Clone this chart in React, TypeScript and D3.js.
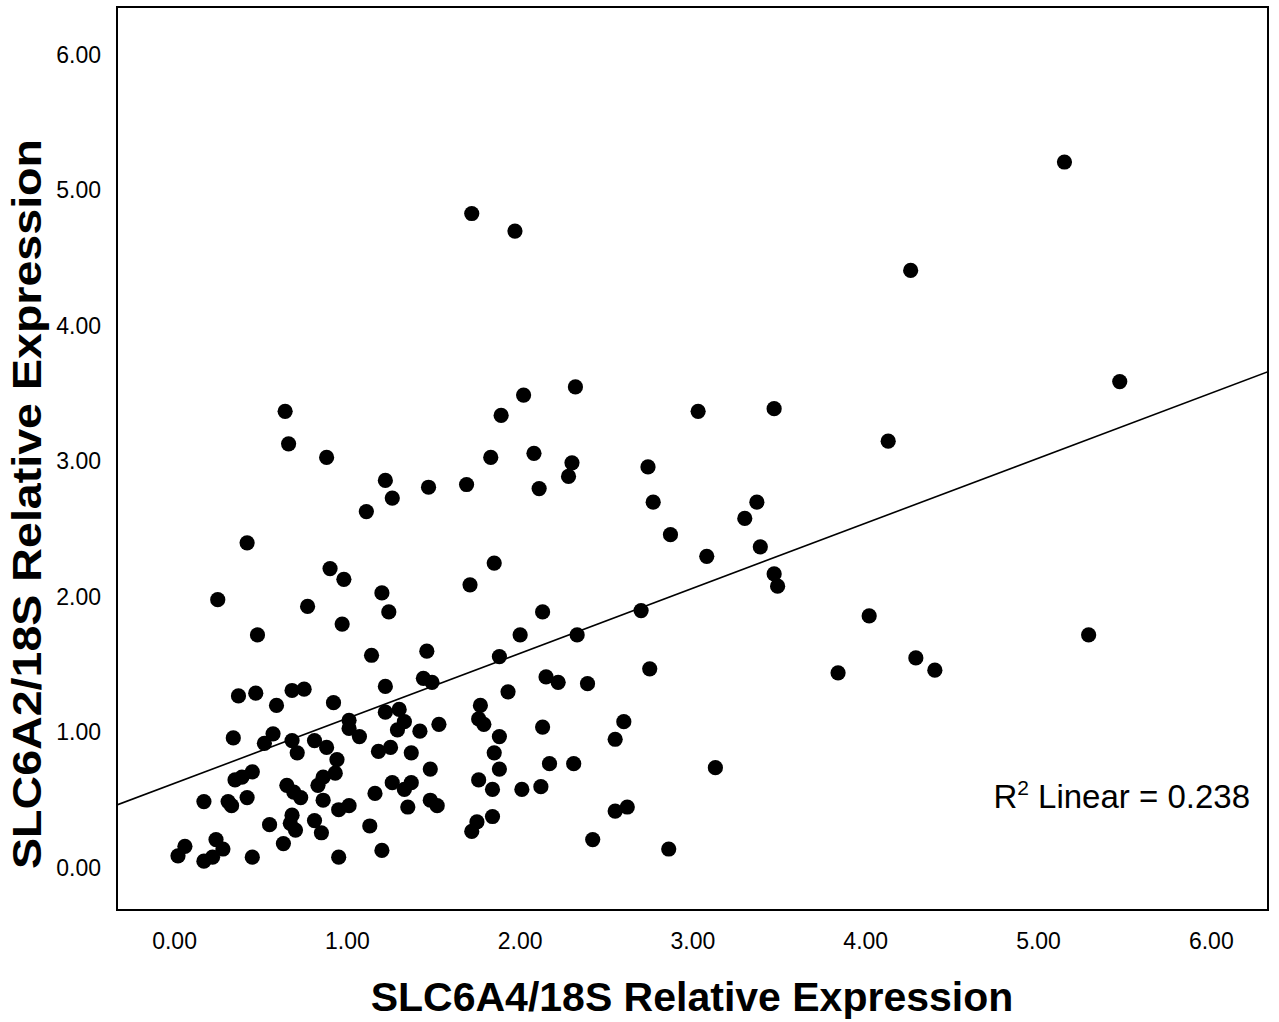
import React from "react";
import * as d3 from "d3";

// SLC6A4/18S relative expression (x) and SLC6A2/18S relative expression (y)
const xValues: number[] = [
  1.72, 1.97, 5.15, 4.26, 5.47, 2.32, 2.02, 1.89, 3.03, 3.47,
  0.64, 0.66, 0.88, 1.22, 1.26, 1.11, 1.47, 1.69, 1.83, 2.08,
  2.30, 2.28, 2.11, 2.74, 2.77, 2.87, 3.08, 4.13, 3.37, 3.30,
  3.39, 3.47, 3.49, 4.02, 5.29, 3.84, 4.29, 4.40, 0.42, 1.85,
  1.71, 0.90, 0.98, 1.20, 1.24, 0.25, 0.77, 0.97, 0.48, 1.14,
  1.46, 1.44, 1.49, 1.22, 0.37, 0.47, 0.68, 0.75, 0.59, 0.92,
  1.01, 1.01, 1.07, 1.22, 1.30, 1.33, 1.29, 1.42, 1.53, 0.34,
  0.57, 0.52, 0.68, 0.71, 0.81, 0.88, 0.94, 0.93, 0.86, 0.83,
  1.18, 1.25, 1.37, 1.48, 0.45, 0.39, 0.35, 0.65, 0.69, 0.73,
  0.17, 0.31, 0.33, 0.42, 0.86, 0.95, 1.01, 1.16, 1.26, 1.37,
  1.33, 1.35, 1.48, 1.52, 0.55, 0.68, 0.67, 0.70, 0.81, 0.85,
  0.63, 1.13, 1.20, 0.95, 0.45, 0.24, 0.28, 0.22, 0.17, 0.06,
  0.02, 2.13, 2.70, 2.00, 2.33, 1.88, 2.75, 2.15, 2.22, 2.39,
  1.93, 1.77, 1.76, 1.79, 1.88, 1.85, 2.13, 2.60, 2.55, 1.88,
  2.17, 2.31, 3.13, 1.76, 1.84, 2.01, 2.12, 1.84, 1.75, 1.72,
  2.55, 2.62, 2.42, 2.86,
];
const yValues: number[] = [
  4.83, 4.70, 5.21, 4.41, 3.59, 3.55, 3.49, 3.34, 3.37, 3.39,
  3.37, 3.13, 3.03, 2.86, 2.73, 2.63, 2.81, 2.83, 3.03, 3.06,
  2.99, 2.89, 2.80, 2.96, 2.70, 2.46, 2.30, 3.15, 2.70, 2.58,
  2.37, 2.17, 2.08, 1.86, 1.72, 1.44, 1.55, 1.46, 2.40, 2.25,
  2.09, 2.21, 2.13, 2.03, 1.89, 1.98, 1.93, 1.80, 1.72, 1.57,
  1.60, 1.40, 1.37, 1.34, 1.27, 1.29, 1.31, 1.32, 1.20, 1.22,
  1.09, 1.03, 0.97, 1.15, 1.17, 1.08, 1.02, 1.01, 1.06, 0.96,
  0.99, 0.92, 0.94, 0.85, 0.94, 0.89, 0.80, 0.70, 0.67, 0.61,
  0.86, 0.89, 0.85, 0.73, 0.71, 0.67, 0.65, 0.61, 0.56, 0.52,
  0.49, 0.49, 0.46, 0.52, 0.50, 0.43, 0.46, 0.55, 0.63, 0.63,
  0.58, 0.45, 0.50, 0.46, 0.32, 0.39, 0.33, 0.28, 0.35, 0.26,
  0.18, 0.31, 0.13, 0.08, 0.08, 0.21, 0.14, 0.08, 0.05, 0.16,
  0.09, 1.89, 1.90, 1.72, 1.72, 1.56, 1.47, 1.41, 1.37, 1.36,
  1.30, 1.20, 1.10, 1.06, 0.97, 0.85, 1.04, 1.08, 0.95, 0.73,
  0.77, 0.77, 0.74, 0.65, 0.58, 0.58, 0.60, 0.38, 0.34, 0.27,
  0.42, 0.45, 0.21, 0.14,
];

const tickValues: number[] = [0, 1, 2, 3, 4, 5, 6];
const xDomain: [number, number] = [-0.333, 6.328];
const yDomain: [number, number] = [-0.31, 6.354];
const fitIntercept = 0.625;
const fitSlope = 0.48;
const r2Label = "0.238";
const xTitle = "SLC6A4/18S Relative Expression";
const yTitle = "SLC6A2/18S Relative Expression";

const W = 1279;
const H = 1022;
const plot = { left: 117, right: 1268, top: 7, bottom: 910 };
const FONT = "'Liberation Sans', Arial, Helvetica, sans-serif";

export default function App() {
  const x = d3.scaleLinear().domain(xDomain).range([plot.left, plot.right]);
  const y = d3.scaleLinear().domain(yDomain).range([plot.bottom, plot.top]);
  const fmt = d3.format(".2f");
  const points = xValues.map((v, i) => ({ x: v, y: yValues[i] }));
  const fitLine = d3
    .line<number>()
    .x((d) => x(d))
    .y((d) => y(fitIntercept + fitSlope * d));

  return (
    <svg
      width={W}
      height={H}
      style={{ position: "absolute", left: 0, top: 0, background: "#fff" }}
      fontFamily={FONT}
    >
      <defs>
        <clipPath id="plotclip">
          <rect
            x={plot.left}
            y={plot.top}
            width={plot.right - plot.left}
            height={plot.bottom - plot.top}
          />
        </clipPath>
      </defs>
      <rect x={0} y={0} width={W} height={H} fill="#fff" />
      <g clipPath="url(#plotclip)">
        {points.map((p, i) => (
          <circle key={i} cx={x(p.x)} cy={y(p.y)} r={7.6} fill="#000" />
        ))}
        <path d={fitLine(xDomain) || ""} stroke="#000" strokeWidth={1.6} fill="none" />
      </g>
      <rect
        x={plot.left}
        y={plot.top}
        width={plot.right - plot.left}
        height={plot.bottom - plot.top}
        fill="none"
        stroke="#000"
        strokeWidth={2}
      />
      {tickValues.map((t) => (
        <text
          key={"x" + t}
          x={x(t)}
          y={949}
          textAnchor="middle"
          fontSize={23}
          fill="#000"
        >
          {fmt(t)}
        </text>
      ))}
      {tickValues.map((t) => (
        <text
          key={"y" + t}
          x={101}
          y={y(t) + 8}
          textAnchor="end"
          fontSize={23}
          fill="#000"
        >
          {fmt(t)}
        </text>
      ))}
      <text
        x={1250}
        y={808}
        textAnchor="end"
        fontSize={33}
        fill="#000"
      >
        R<tspan fontSize={21} dy={-13}>2</tspan>
        <tspan dy={13}>{" Linear = " + r2Label}</tspan>
      </text>
      <text
        x={692}
        y={1011}
        textAnchor="middle"
        fontSize={41}
        fontWeight="bold"
        fill="#000"
      >
        {xTitle}
      </text>
      <text
        transform={`translate(41, 504) rotate(-90)`}
        textAnchor="middle"
        fontSize={40}
        fontWeight="bold"
        fill="#000"
        textLength={730}
        lengthAdjust="spacingAndGlyphs"
      >
        {yTitle}
      </text>
    </svg>
  );
}
